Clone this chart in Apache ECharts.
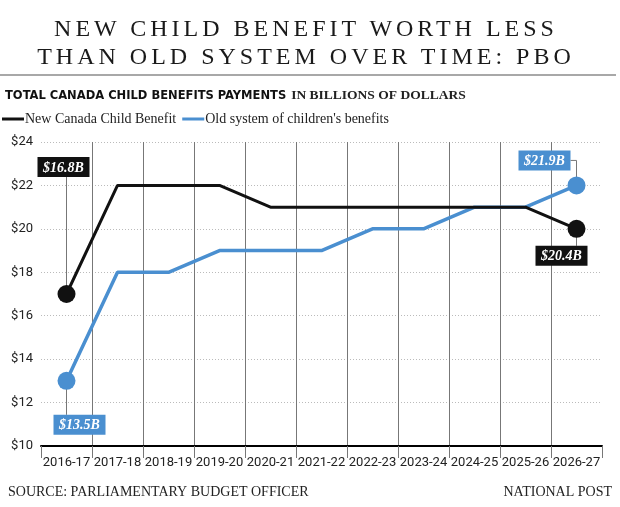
<!DOCTYPE html>
<html>
<head>
<meta charset="utf-8">
<script src="https://cdn.jsdelivr.net/npm/echarts@6/dist/echarts.min.js"></script>
<style>
html,body{margin:0;padding:0;background:#fff;}
#wrap{position:relative;width:620px;height:507px;}
#chart{position:absolute;left:0;top:0;width:620px;height:507px;}
#head{position:absolute;left:-4px;top:14px;width:620px;text-align:center;font-family:'Liberation Serif',serif;font-size:24px;line-height:28px;letter-spacing:4px;color:#1a1a1a;z-index:2;pointer-events:none;}
</style>
</head>
<body>
<div id="wrap">
<div id="chart"></div>
<div id="head">NEW CHILD BENEFIT WORTH LESS<br>THAN OLD SYSTEM OVER TIME: PBO</div>
</div>
<script>
const categories = ['2016-17','2017-18','2018-19','2019-20','2020-21','2021-22','2022-23','2023-24','2024-25','2025-26','2026-27'];
const newBenefit = [17, 22, 22, 22, 21, 21, 21, 21, 21, 21, 20];
const oldSystem = [13, 18, 18, 19, 19, 19, 20, 20, 21, 21, 22];
const yTicks = [10, 12, 14, 16, 18, 20, 22, 24];
const seriesNames = ['New Canada Child Benefit', "Old system of children's benefits"];
// annotations: [category index, value, text, series index]
const annCategory = [0, 0, 10, 10];
const annValue = [17, 13, 22, 20];
const annText = ['$16.8B', '$13.5B', '$21.9B', '$20.4B'];
const annSeries = [0, 1, 1, 0];

const colors = ['#111111', '#4a8fd0'];
// placement styles for annotation boxes (pixel offsets from point)
const annPlace = [
  {dx: -3, dy: -127, conn: 'v'},
  {dx: 13, dy: 44, conn: 'v'},
  {dx: -32, dy: -25, conn: 'elbow'},
  {dx: -15, dy: 27, conn: 'v'}
];

const annData = annCategory.map((c, i) => [c, annValue[i], i]);

const chart = echarts.init(document.getElementById('chart'), null, {renderer: 'canvas'});
const lastIdx = categories.length - 1;
const symSize = (v, p) => (p.dataIndex === 0 || p.dataIndex === lastIdx) ? 18 : 0;

chart.setOption({
  animation: false,
  backgroundColor: '#fff',
  title: [
    {
      text: '{b|TOTAL CANADA CHILD BENEFITS PAYMENTS} {s|IN BILLIONS OF DOLLARS}',
      left: 0, top: 82,
      textStyle: {
        rich: {
          b: {fontFamily: 'Liberation Sans Narrow, DejaVu Sans Condensed, Roboto', fontWeight: 'bold', fontSize: 12.8, color: '#111'},
          s: {fontFamily: 'Liberation Serif', fontSize: 13.5, color: '#222'}
        }
      }
    },
    {
      text: 'SOURCE: PARLIAMENTARY BUDGET OFFICER',
      left: 3, top: 480,
      textStyle: {fontFamily: 'Liberation Serif', fontSize: 14, fontWeight: 'normal', color: '#222'}
    },
    {
      text: 'NATIONAL POST',
      right: 3, top: 480,
      textStyle: {fontFamily: 'Liberation Serif', fontSize: 14, fontWeight: 'normal', color: '#222'}
    }
  ],
  graphic: [
    {type: 'rect', left: 0, top: 74, shape: {width: 616, height: 2}, style: {fill: '#a8a8a8'}}
  ],
  legend: {
    data: seriesNames,
    left: -3, top: 107,
    icon: 'rect', itemWidth: 22, itemHeight: 3, itemGap: 6,
    textStyle: {fontFamily: 'Liberation Serif', fontSize: 14, color: '#222', padding: [0, 0, 0, -4]}
  },
  grid: {left: 41, right: 18, top: 142, bottom: 61, containLabel: false},
  xAxis: {
    type: 'category', data: categories, boundaryGap: true,
    axisLine: {show: true, lineStyle: {color: '#000', width: 2}},
    axisTick: {show: true, length: 12, lineStyle: {color: '#777', width: 1}},
    splitLine: {show: true, showMinLine: false, showMaxLine: false, lineStyle: {color: '#777', width: 1}},
    axisLabel: {fontFamily: 'Roboto', fontSize: 13, color: '#222', margin: 10, interval: 0}
  },
  yAxis: {
    type: 'value', min: yTicks[0], max: yTicks[yTicks.length - 1], interval: 2,
    axisLine: {show: false}, axisTick: {show: false},
    splitLine: {show: true, lineStyle: {color: '#bbb', type: [1, 2], width: 1}},
    axisLabel: {fontFamily: 'Roboto', fontSize: 13, color: '#222', margin: 8, formatter: v => '$' + v}
  },
  series: [
    {
      name: seriesNames[1], type: 'line', data: oldSystem, z: 2,
      symbol: 'circle', symbolSize: symSize, showAllSymbol: true,
      lineStyle: {color: colors[1], width: 3.5}, itemStyle: {color: colors[1]}
    },
    {
      name: seriesNames[0], type: 'line', data: newBenefit, z: 3,
      symbol: 'circle', symbolSize: symSize, showAllSymbol: true,
      lineStyle: {color: colors[0], width: 3}, itemStyle: {color: colors[0]}
    },
    {
      type: 'custom', data: annData, z: 1, silent: true,
      renderItem: function (params, api) {
        const i = api.value(2);
        const pt = api.coord([api.value(0), api.value(1)]);
        const pl = annPlace[i];
        const bw = 52, bh = 20;
        const cx = pt[0] + pl.dx, cy = pt[1] + pl.dy;
        const col = colors[annSeries[i]];
        const children = [];
        if (pl.conn === 'v') {
          const yEdge = pl.dy < 0 ? cy + bh / 2 : cy - bh / 2;
          children.push({type: 'line', shape: {x1: pt[0], y1: pt[1], x2: pt[0], y2: yEdge}, style: {stroke: '#777', lineWidth: 1}});
        } else {
          children.push({type: 'polyline', shape: {points: [[cx + bw / 2, cy], [pt[0], cy], [pt[0], pt[1]]]}, style: {stroke: '#777', lineWidth: 1, fill: null}});
        }
        children.push({type: 'rect', shape: {x: cx - bw / 2, y: cy - bh / 2, width: bw, height: bh}, style: {fill: col}});
        children.push({type: 'text', x: cx, y: cy + 1, style: {text: annText[i], fill: '#fff', font: 'italic bold 14px "Liberation Serif"', align: 'center', verticalAlign: 'middle'}});
        return {type: 'group', children: children};
      }
    }
  ]
});
</script>
</body>
</html>
